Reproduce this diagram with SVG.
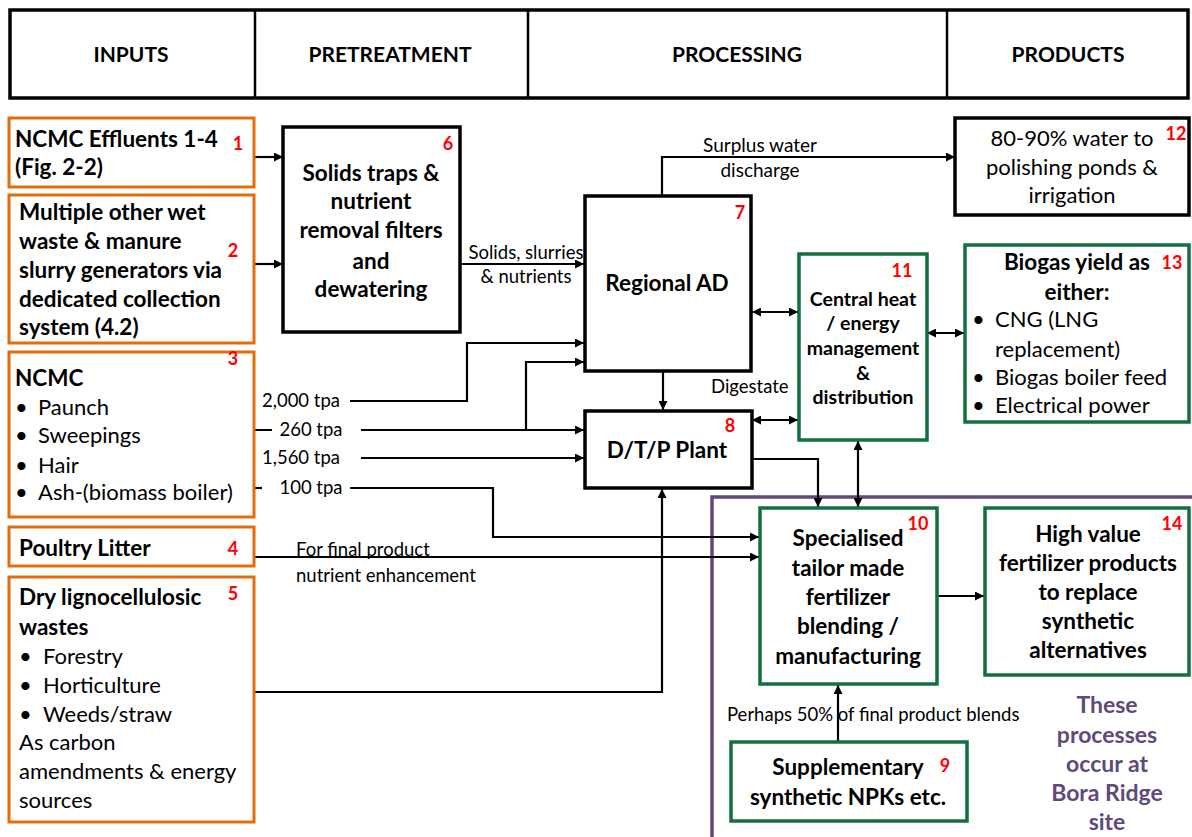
<svg xmlns="http://www.w3.org/2000/svg" width="1192" height="837" viewBox="0 0 1192 837">
  <defs>
    <marker id="arr" viewBox="0 0 10 10" refX="10" refY="5" markerWidth="10" markerHeight="9" markerUnits="userSpaceOnUse" orient="auto-start-reverse">
      <path d="M0,0 L10,5 L0,10 z" fill="#000"/>
    </marker>
    <style>
      text { font-family: Lato, "Open Sans", sans-serif; fill: #000; }
      .hdr { font-size: 21px; font-weight: bold; text-anchor: middle; }
      .b { font-size: 22.5px; font-weight: bold; }
      .r { font-size: 22px; }
      .c { text-anchor: middle; }
      .s { font-size: 18.5px; }
      .num { font-size: 18px; font-weight: bold; fill: #ff0000; text-anchor: middle; }
      .or { fill: #fff; stroke: #e46c0a; stroke-width: 3; }
      .gr { fill: #fff; stroke: #127040; stroke-width: 3.5; }
      .bk { fill: #fff; stroke: #000; stroke-width: 3.5; }
      .ln { fill: none; stroke: #000; stroke-width: 2.2; }
      .pu { fill: none; stroke: #604a7b; stroke-width: 3.5; }
      .put { font-size: 23px; font-weight: bold; fill: #604a7b; text-anchor: middle; }
    </style>
  </defs>
  <rect width="1192" height="837" fill="#fff"/>

  <!-- column headers -->
  <g id="header">
    <rect x="10" y="10" width="1178" height="88" class="bk"/>
    <line x1="255" y1="10" x2="255" y2="98" stroke="#000" stroke-width="2.5"/>
    <line x1="528" y1="10" x2="528" y2="98" stroke="#000" stroke-width="2.5"/>
    <line x1="947" y1="10" x2="947" y2="98" stroke="#000" stroke-width="2.5"/>
    <text x="131" y="62" class="hdr">INPUTS</text>
    <text x="390" y="62" class="hdr">PRETREATMENT</text>
    <text x="737" y="62" class="hdr">PROCESSING</text>
    <text x="1068" y="62" class="hdr">PRODUCTS</text>
  </g>

  <!-- site boundary -->
  <g id="site">
    <path d="M1195,497 H712 V840" class="pu"/>
    <text class="put"><tspan x="1107" y="713">These</tspan><tspan x="1107" y="743">processes</tspan><tspan x="1107" y="772">occur at</tspan><tspan x="1107" y="801">Bora Ridge</tspan><tspan x="1107" y="830">site</tspan></text>
  </g>

  <!-- connectors -->
  <g id="connectors">
    <line x1="254" y1="157" x2="283" y2="157" class="ln" marker-end="url(#arr)"/>
    <line x1="254" y1="264" x2="283" y2="264" class="ln" marker-end="url(#arr)"/>
    <line x1="460" y1="264" x2="584" y2="264" class="ln" marker-end="url(#arr)"/>
    <text class="s c"><tspan x="526" y="259">Solids, slurries</tspan><tspan x="526" y="283">&amp; nutrients</tspan></text>
    <path d="M662,196 V157 H955" class="ln" marker-end="url(#arr)"/>
    <text class="c" font-size="19"><tspan x="760" y="152">Surplus water</tspan><tspan x="760" y="177">discharge</tspan></text>
    <line x1="663" y1="371" x2="663" y2="410" class="ln" marker-end="url(#arr)"/>
    <text x="711" y="393" class="s">Digestate</text>
    <line x1="752" y1="312" x2="798" y2="312" class="ln" marker-start="url(#arr)" marker-end="url(#arr)"/>
    <line x1="752" y1="420" x2="798" y2="420" class="ln" marker-start="url(#arr)" marker-end="url(#arr)"/>
    <line x1="927" y1="333" x2="964" y2="333" class="ln" marker-start="url(#arr)" marker-end="url(#arr)"/>
    <line x1="858" y1="441" x2="858" y2="507" class="ln" marker-start="url(#arr)" marker-end="url(#arr)"/>
    <path d="M752,459 H818 V507" class="ln" marker-end="url(#arr)"/>
    <!-- NCMC streams -->
    <line x1="175" y1="401" x2="252" y2="401" class="ln"/>
    <text x="301" y="407" class="s c">2,000 tpa</text>
    <path d="M350,401 H467 V343 H584" class="ln" marker-end="url(#arr)"/>
    <line x1="175" y1="430" x2="272" y2="430" class="ln"/>
    <text x="311" y="436" class="s c">260 tpa</text>
    <line x1="361" y1="430" x2="584" y2="430" class="ln" marker-end="url(#arr)"/>
    <path d="M526,430 V362 H584" class="ln" marker-end="url(#arr)"/>
    <line x1="175" y1="458" x2="252" y2="458" class="ln"/>
    <text x="301" y="464" class="s c">1,560 tpa</text>
    <line x1="361" y1="458" x2="584" y2="458" class="ln" marker-end="url(#arr)"/>
    <line x1="243" y1="488" x2="262" y2="488" class="ln"/>
    <text x="311" y="494" class="s c">100 tpa</text>
    <path d="M350,488 H493 V537 H759" class="ln" marker-end="url(#arr)"/>
    <line x1="254" y1="557" x2="759" y2="557" class="ln" marker-end="url(#arr)"/>
    <text class="s"><tspan x="296" y="556">For final product</tspan><tspan x="296" y="582">nutrient enhancement</tspan></text>
    <path d="M254,692 H662 V489" class="ln" marker-end="url(#arr)"/>
    <line x1="937" y1="596" x2="984" y2="596" class="ln" marker-end="url(#arr)"/>
    <line x1="838" y1="742" x2="838" y2="685" class="ln" marker-end="url(#arr)"/>
    <text x="727" y="721" class="s">Perhaps 50% of final product  blends</text>
  </g>

  <g id="n1">
    <rect x="9" y="118" width="245" height="69" class="or"/>
    <text class="b"><tspan x="15" y="147">NCMC Effluents 1-4</tspan><tspan x="15" y="175">(Fig. 2-2)</tspan></text>
    <text x="238" y="150" class="num">1</text>
  </g>
  <g id="n2">
    <rect x="9" y="195" width="245" height="148" class="or"/>
    <text class="b"><tspan x="19" y="220">Multiple other wet</tspan><tspan x="19" y="249">waste &amp; manure</tspan><tspan x="19" y="278">slurry generators via</tspan><tspan x="19" y="307">dedicated collection</tspan><tspan x="19" y="335">system (4.2)</tspan></text>
    <text x="233" y="257" class="num">2</text>
  </g>
  <g id="n3">
    <rect x="9" y="352" width="245" height="165" class="or"/>
    <text x="15" y="386" class="b">NCMC</text>
    <text class="r"><tspan x="15" y="415">•</tspan><tspan x="38" y="415">Paunch</tspan><tspan x="15" y="443">•</tspan><tspan x="38" y="443">Sweepings</tspan><tspan x="15" y="473">•</tspan><tspan x="38" y="473">Hair</tspan><tspan x="15" y="500">•</tspan><tspan x="38" y="500">Ash-(biomass boiler)</tspan></text>
    <text x="233" y="365" class="num">3</text>
  </g>
  <g id="n4">
    <rect x="9" y="527" width="245" height="39" class="or"/>
    <text x="19" y="556" class="b">Poultry Litter</text>
    <text x="233" y="555" class="num">4</text>
  </g>
  <g id="n5">
    <rect x="9" y="577" width="245" height="245" class="or"/>
    <text class="b"><tspan x="19" y="605">Dry lignocellulosic</tspan><tspan x="19" y="635">wastes</tspan></text>
    <text class="r"><tspan x="19" y="664">•</tspan><tspan x="43" y="664">Forestry</tspan><tspan x="19" y="693">•</tspan><tspan x="43" y="693">Horticulture</tspan><tspan x="19" y="722">•</tspan><tspan x="43" y="722">Weeds/straw</tspan><tspan x="19" y="750">As carbon</tspan><tspan x="19" y="779">amendments &amp; energy</tspan><tspan x="19" y="808">sources</tspan></text>
    <text x="233" y="600" class="num">5</text>
  </g>
  <g id="n6">
    <rect x="283" y="127" width="177" height="205" class="bk"/>
    <text class="b c"><tspan x="371" y="181">Solids traps &amp;</tspan><tspan x="371" y="209">nutrient</tspan><tspan x="371" y="238">removal filters</tspan><tspan x="371" y="269">and</tspan><tspan x="371" y="297">dewatering</tspan></text>
    <text x="448" y="150" class="num">6</text>
  </g>
  <g id="n7">
    <rect x="585" y="196" width="166" height="175" class="bk"/>
    <text x="667" y="291" class="b c">Regional AD</text>
    <text x="740" y="219" class="num">7</text>
  </g>
  <g id="n8">
    <rect x="585" y="411" width="167" height="77" class="bk"/>
    <text x="667" y="458" class="b c">D/T/P Plant</text>
    <text x="730" y="432" class="num">8</text>
  </g>
  <g id="n9">
    <rect x="731" y="742" width="236" height="79" class="gr"/>
    <text class="b c"><tspan x="848" y="775">Supplementary</tspan><tspan x="848" y="805">synthetic NPKs etc.</tspan></text>
    <text x="945" y="772" class="num">9</text>
  </g>
  <g id="n10">
    <rect x="760" y="508" width="177" height="176" class="gr"/>
    <text class="b c"><tspan x="848" y="546">Specialised</tspan><tspan x="848" y="576">tailor made</tspan><tspan x="848" y="605">fertilizer</tspan><tspan x="848" y="634">blending /</tspan><tspan x="848" y="664">manufacturing</tspan></text>
    <text x="918" y="530" class="num">10</text>
  </g>
  <g id="n11">
    <rect x="799" y="254" width="128" height="186" class="gr"/>
    <text class="c" font-size="19.5" font-weight="bold"><tspan x="863" y="306">Central heat</tspan><tspan x="863" y="330">/ energy</tspan><tspan x="863" y="355">management</tspan><tspan x="863" y="380">&amp;</tspan><tspan x="863" y="404">distribution</tspan></text>
    <text x="902" y="277" class="num">11</text>
  </g>
  <g id="n12">
    <rect x="955" y="118" width="234" height="97" class="bk"/>
    <text class="r c"><tspan x="1072" y="146">80-90% water to</tspan><tspan x="1072" y="175">polishing ponds &amp;</tspan><tspan x="1072" y="203">irrigation</tspan></text>
    <text x="1176" y="140" class="num">12</text>
  </g>
  <g id="n13">
    <rect x="965" y="245" width="224" height="177" class="gr"/>
    <text class="b c"><tspan x="1077" y="270">Biogas yield as</tspan><tspan x="1077" y="300">either:</tspan></text>
    <text class="r"><tspan x="972" y="327">•</tspan><tspan x="995" y="327">CNG (LNG</tspan><tspan x="995" y="357">replacement)</tspan><tspan x="972" y="385">•</tspan><tspan x="995" y="385">Biogas boiler feed</tspan><tspan x="972" y="413">•</tspan><tspan x="995" y="413">Electrical power</tspan></text>
    <text x="1172" y="269" class="num">13</text>
  </g>
  <g id="n14">
    <rect x="985" y="508" width="204" height="167" class="gr"/>
    <text class="b c"><tspan x="1088" y="542">High value</tspan><tspan x="1088" y="571">fertilizer products</tspan><tspan x="1088" y="600">to replace</tspan><tspan x="1088" y="629">synthetic</tspan><tspan x="1088" y="658">alternatives</tspan></text>
    <text x="1172" y="530" class="num">14</text>
  </g>
</svg>
